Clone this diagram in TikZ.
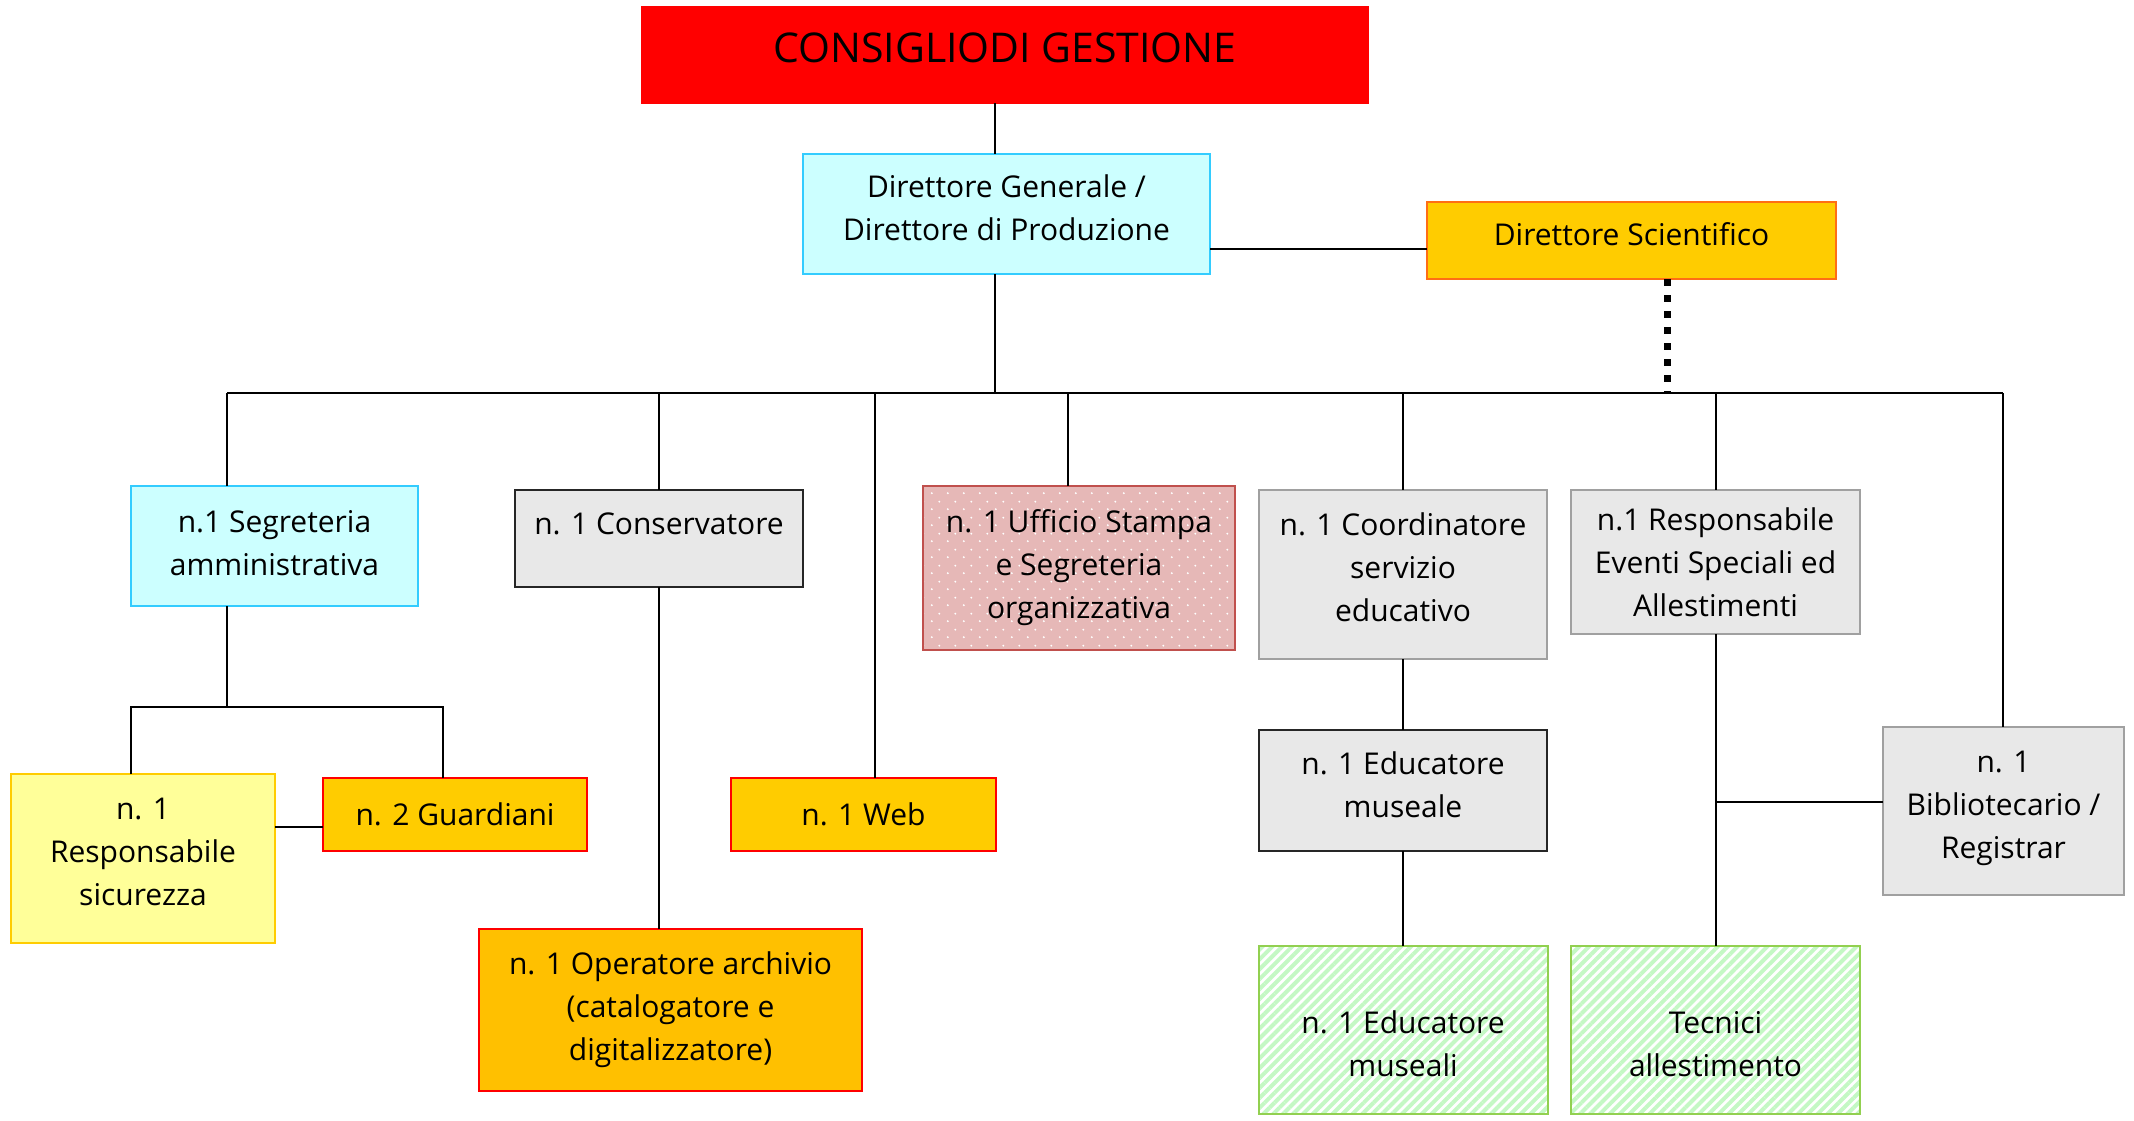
\documentclass[tikz,border=0pt]{standalone}
\usepackage{fontspec}
\setmainfont{Open Sans}
\usepackage{tikz}
\usetikzlibrary{positioning,calc,patterns,patterns.meta}

\definecolor{cdgRed}{RGB}{255,0,0}
\definecolor{dirCyan}{RGB}{204,255,255}
\definecolor{dirCyanLine}{RGB}{51,204,255}
\definecolor{sciGold}{RGB}{255,204,0}
\definecolor{sciOrange}{RGB}{255,110,20}
\definecolor{operGold}{RGB}{255,192,0}
\definecolor{secYellow}{RGB}{255,255,153}
\definecolor{staffGray}{RGB}{232,232,232}
\definecolor{staffLine}{RGB}{160,160,160}
\definecolor{pressPink}{RGB}{230,184,183}
\definecolor{pressLine}{RGB}{192,80,77}
\definecolor{techGreen}{RGB}{196,248,196}
\definecolor{techLine}{RGB}{146,208,80}

\pgfdeclarepattern{
  name=pressDots,
  type=uncolored,
  bottom left={\pgfpoint{0pt}{0pt}},
  top right={\pgfpoint{8pt}{8pt}},
  tile size={\pgfpoint{8pt}{8pt}},
  code={
    \pgfpathcircle{\pgfpoint{2pt}{2pt}}{0.55pt}
    \pgfpathcircle{\pgfpoint{6pt}{6pt}}{0.55pt}
    \pgfusepath{fill}
  }
}

\begin{document}
\begin{tikzpicture}[x=0.5pt, y=-0.5pt, line width=1pt]
\tikzstyle{every node}=[rectangle, inner sep=0pt, outer sep=0pt, align=center,
 text=black, line width=1pt, font=\fontsize{15}{21.5}\selectfont]
\tikzset{
	boardBox/.style={fill=cdgRed, draw=cdgRed, font=\fontsize{20.5}{24}\selectfont},
	directorBox/.style={fill=dirCyan, draw=dirCyanLine},
	scienceBox/.style={fill=sciGold, draw=sciOrange},
	goldBox/.style={fill=sciGold, draw=red},
	archiveBox/.style={fill=operGold, draw=red},
	safetyBox/.style={fill=secYellow, draw=sciGold},
	staffBox/.style={fill=staffGray, draw=black!85},
	staffSoftBox/.style={fill=staffGray, draw=staffLine},
	pressBox/.style={preaction={fill=pressPink}, pattern=pressDots,
		pattern color=white, draw=pressLine},
	techBox/.style={pattern={Lines[angle=45, distance=3.5pt, line width=2pt]},
		pattern color=techGreen, draw=techLine}
}

\useasboundingbox (0,0) rectangle (2134,1120);

%top
\node[boardBox, minimum width=363pt, minimum height=48pt, text depth=7pt]
(CDG) at (1005,55) {CONSIGLIODI GESTIONE};

\node[directorBox, minimum width=203.5pt, minimum height=60pt]
(DG) at (1006.5,214) {Direttore Generale /\\ Direttore di Produzione\rule[-6pt]{0pt}{0pt}};

\node[scienceBox, minimum width=204.5pt, minimum height=38.5pt, text depth=6pt]
(DS) at (1631.5,240.5) {Direttore Scientifico};

%--------------------------- second row ------------
\node[directorBox, minimum width=143.5pt, minimum height=60pt]
(SEG) at (274.5,546) {n.1 Segreteria\\ amministrativa\rule[-3pt]{0pt}{0pt}};

\node[staffBox, minimum width=144pt, minimum height=48.5pt, text depth=14.5pt]
(CONS) at (659,538.5) {n. 1 Conservatore};

\node[pressBox, minimum width=156pt, minimum height=82pt]
(UFF) at (1079,568) {n. 1 Ufficio Stampa\\ e Segreteria\\ organizzativa};

\node[staffSoftBox, minimum width=144pt, minimum height=84.5pt]
(COORD) at (1403,574.5) {n. 1 Coordinatore\\ servizio\\ educativo\rule[-7pt]{0pt}{0pt}};

\node[staffSoftBox, minimum width=144.5pt, minimum height=72pt]
(RESEV) at (1715.5,562) {n.1 Responsabile\\ Eventi Speciali ed\\ Allestimenti};

\node[staffSoftBox, minimum width=120.5pt, minimum height=84pt]
(BIB) at (2003.5,811) {n. 1\\ Bibliotecario /\\ Registrar\rule[-6pt]{0pt}{0pt}};

%--------------------------- lower rows ------------
\node[safetyBox, minimum width=132pt, minimum height=84.5pt]
(RSIC) at (143,858.5) {n. 1\\ Responsabile\\ sicurezza\rule[-7pt]{0pt}{0pt}};

\node[goldBox, minimum width=132pt, minimum height=36.5pt]
(GUARD) at (455,814.5) {n. 2 Guardiani};

\node[goldBox, minimum width=132.5pt, minimum height=36.5pt]
(WEB) at (863.5,814.5) {n. 1 Web};

\node[archiveBox, minimum width=191.5pt, minimum height=81pt]
(OPER) at (670.5,1010) {n. 1 Operatore archivio\\ (catalogatore e\\ digitalizzatore)};

\node[staffBox, minimum width=144pt, minimum height=60.5pt]
(EDU) [below of=COORD, node distance=108pt] {n. 1 Educatore\\ museale\rule[-6pt]{0pt}{0pt}};

\node[techBox, minimum width=144.5pt, minimum height=84pt]
(EDU2) [below of=EDU, node distance=119.75pt] {\rule{0pt}{25pt}n. 1 Educatore\\ museali};

\node[techBox, minimum width=144.5pt, minimum height=84pt]
(TEC) [right of=EDU2, node distance=156.25pt] {\rule{0pt}{25pt}Tecnici\\ allestimento};

%--------------------------- connectors ------------
\coordinate (bus) at (995,393);
\coordinate (busSeg) at (227,393);
\coordinate (busWeb) at (875,393);
\coordinate (busUff) at (1068,393);
\coordinate (busSci) at (1667,393);
\coordinate (busBib) at (2003,393);

\draw (CDG.south -| bus) -- (DG.north -| bus);
\draw (DG.south -| bus) -- (bus);
\coordinate (sciLink) at (1300,249);
\draw (DG.east |- sciLink) -- (DS.west |- sciLink);
\draw[line width=3.5pt, dash pattern=on 3.5pt off 4.5pt] (DS.south -| busSci) -- (busSci);

\draw (busSeg) -- (busBib);
\draw (busSeg) -- (busSeg |- SEG.north);
\draw (bus -| CONS.north) -- (CONS.north);
\draw (busWeb) -- (busWeb |- WEB.north);
\draw (busUff) -- (busUff |- UFF.north);
\draw (bus -| COORD.north) -- (COORD.north);
\draw (bus -| RESEV.north) -- (RESEV.north);
\draw (busBib) -- (busBib |- BIB.north);

% segreteria branch
\coordinate (segFork) at (227,707);
\coordinate (forkL) at (131,707);
\coordinate (forkR) at (443,707);
\draw (SEG.south -| segFork) -- (segFork);
\draw (forkL |- RSIC.north) -- (forkL) -- (forkR) -- (forkR |- GUARD.north);
\coordinate (guardLink) at (300,827);
\draw (RSIC.east |- guardLink) -- (GUARD.west |- guardLink);

\draw (CONS) -- (CONS.south |- OPER.north);
\draw (COORD) -- (EDU);
\draw (EDU) -- (EDU2);
\draw (RESEV) -- (TEC);
\coordinate (bibLink) at (1800,802);
\draw (RESEV.south |- bibLink) -- (BIB.west |- bibLink);

\end{tikzpicture}
\end{document}
